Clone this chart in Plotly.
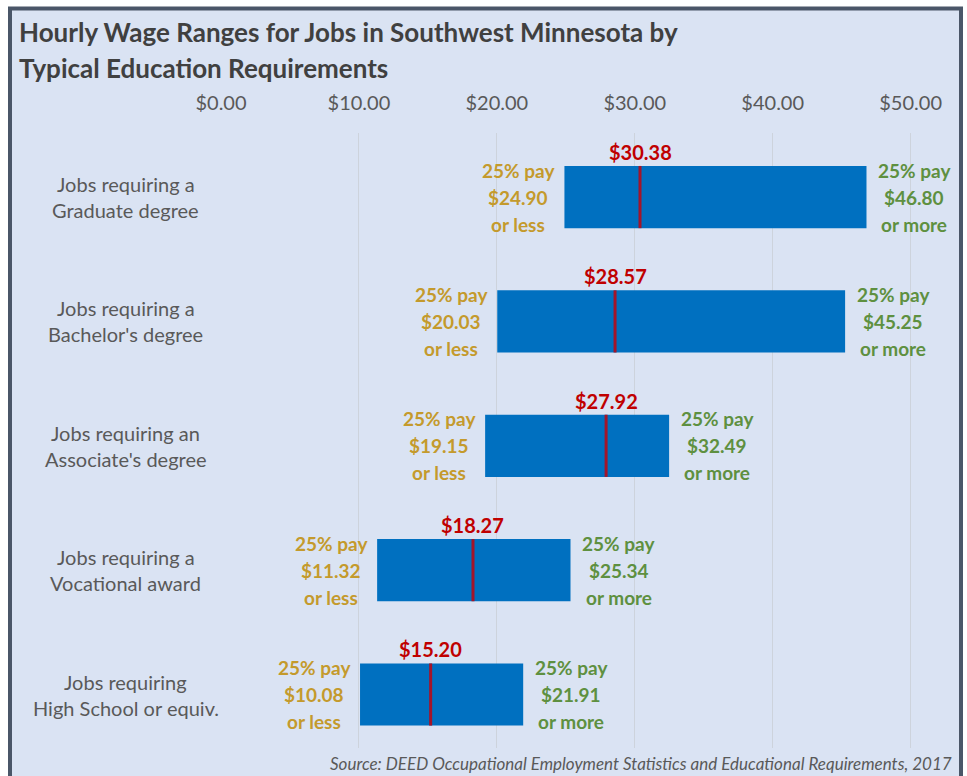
import plotly.graph_objects as go

categories = ["Jobs requiring a<br>Graduate degree",
              "Jobs requiring a<br>Bachelor's degree",
              "Jobs requiring an<br>Associate's degree",
              "Jobs requiring a<br>Vocational award",
              "Jobs requiring<br>High School or equiv."]
p25 = [24.90, 20.03, 19.15, 11.32, 10.08]
median = [30.38, 28.57, 27.92, 18.27, 15.20]
p75 = [46.80, 45.25, 32.49, 25.34, 21.91]
tick_vals = [0, 10, 20, 30, 40, 50]
tick_text = ["$0.00", "$10.00", "$20.00", "$30.00", "$40.00", "$50.00"]

W, H = 967, 776
# plot area in window pixels
X0, X1, Y0, Y1 = 221, 952, 133, 748
ML, MR, MT, MB = X0, W - X1, Y0, H - Y1
PW, PH = W - ML - MR, H - MT - MB

def px(xp):
    return (xp - X0) / PW

def py(yp):
    return (Y1 - yp) / PH

BG = "#dae3f3"
FONT = "Lato"
idx = list(range(len(categories)))

fig = go.Figure()
fig.add_trace(go.Bar(
    y=idx, x=[b - a for a, b in zip(p25, p75)], base=p25,
    orientation="h", width=0.5, marker=dict(color="#0070c0", line=dict(width=0)),
    hoverinfo="skip", showlegend=False))

mx, my = [], []
for i, m in zip(idx, median):
    mx += [m, m, None]
    my += [i - 0.25, i + 0.25, None]
fig.add_trace(go.Scatter(x=mx, y=my, mode="lines",
                         line=dict(color="#a3142a", width=3),
                         hoverinfo="skip", showlegend=False))

ann = []
LS = 27  # line spacing of the side labels, px
for i, a, m, b, c in zip(idx, p25, median, p75, categories):
    left_lines = ["25% pay", f"${a:.2f}", "or less"]
    right_lines = ["25% pay", f"${b:.2f}", "or more"]
    for k in range(3):
        ann.append(dict(x=a, y=i, xref="x", yref="y", xanchor="center", yanchor="middle",
                        xshift=-46, yshift=(1 - k) * LS, showarrow=False,
                        text=left_lines[k],
                        font=dict(family=FONT, size=19, color="#c49a2c", weight="bold")))
        ann.append(dict(x=b, y=i, xref="x", yref="y", xanchor="center", yanchor="middle",
                        xshift=48, yshift=(1 - k) * LS, showarrow=False,
                        text=right_lines[k],
                        font=dict(family=FONT, size=19, color="#5e9040", weight="bold")))
    ann.append(dict(x=m, y=i - 0.25, xref="x", yref="y", xanchor="center", yanchor="bottom",
                    yshift=0, showarrow=False,
                    text=f"${m:.2f}",
                    font=dict(family=FONT, size=20, color="#c00000", weight="bold")))
    l1, l2 = c.split("<br>")
    for k, t in enumerate([l1, l2]):
        ann.append(dict(x=px(126), y=i, xref="paper", yref="y", xanchor="center", yanchor="middle",
                        yshift=13 - 26 * k, showarrow=False, text=t,
                        font=dict(family=FONT, size=20, color="#595959")))

ann.append(dict(x=px(17), y=py(32), xref="paper", yref="paper", xanchor="left", yanchor="middle",
                showarrow=False, text="Hourly Wage Ranges for Jobs in Southwest Minnesota by",
                font=dict(family=FONT, size=26, color="#404040", weight="bold")))
ann.append(dict(x=px(17), y=py(68), xref="paper", yref="paper", xanchor="left", yanchor="middle",
                showarrow=False, text="Typical Education Requirements",
                font=dict(family=FONT, size=26, color="#404040", weight="bold")))
ann.append(dict(x=px(954), y=py(763), xref="paper", yref="paper", xanchor="right", yanchor="middle",
                showarrow=False,
                text="<i>Source: DEED Occupational Employment Statistics and Educational Requirements, 2017</i>",
                font=dict(family=FONT, size=17, color="#595959")))

fig.update_layout(
    width=W, height=H,
    margin=dict(l=ML, r=MR, t=MT, b=MB, pad=0),
    paper_bgcolor="white", plot_bgcolor="rgba(0,0,0,0)",
    showlegend=False,
    annotations=ann,
    shapes=[dict(type="rect", xref="paper", yref="paper", layer="below",
                 x0=px(10), x1=px(961), y0=py(830), y1=py(8.5),
                 fillcolor=BG, line=dict(color="#4a5668", width=4))],
    xaxis=dict(range=[0, 53], side="top", tickvals=tick_vals, ticktext=tick_text,
               showgrid=True, gridcolor="#cdd3dc", gridwidth=1, zeroline=False,
               showline=False, ticks="", ticklabelstandoff=18,
               tickfont=dict(family=FONT, size=20, color="#595959"), fixedrange=True),
    yaxis=dict(range=[4.43, -0.515], showticklabels=False, showgrid=False,
               zeroline=False, showline=False, ticks="", fixedrange=True),
)

fig.write_html("out.html", config={"displayModeBar": False},
               post_script="document.body.style.margin='0';"
                           "document.body.style.overflow='hidden';"
                           "document.documentElement.style.overflow='hidden';")
